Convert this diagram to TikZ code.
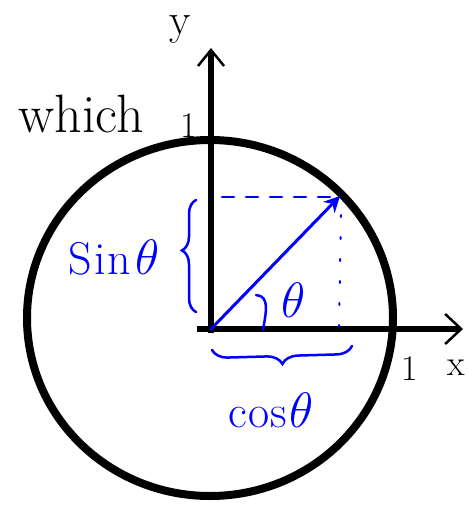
\documentclass[tikz,border=0pt]{standalone}
\usepackage{graphicx}
\usetikzlibrary{arrows.meta,decorations.pathreplacing}
\newcommand{\bigth}{\scalebox{2}{$\theta$}}
\begin{document}
\begin{tikzpicture}[x=1pt,y=-1pt,
  hand/.style={font=\fontsize{36}{36}\selectfont, inner sep=0pt},
  bighand/.style={font=\fontsize{54}{54}\selectfont, inner sep=0pt},
  bluehand/.style={font=\fontsize{46}{46}\selectfont, inner sep=0pt, text=blue},
  bl/.style={blue, line width=2.5pt, line cap=round}]
\useasboundingbox (0,0) rectangle (467,505);
\coordinate (O) at (211,329);
\coordinate (P) at (340,196);
\coordinate (ytop) at (211,48);
\coordinate (xend) at (463,329);
\coordinate (xstart) at (197,329);
\coordinate (ybot) at (211,333);
% circle
\draw[line width=8pt] (210,318) ellipse [x radius=183, y radius=178];
% axes
\draw[line width=6pt, -{Straight Barb[length=16pt,width=26pt,line width=2.5pt]}] (ybot) -- (ytop);
\draw[line width=6pt, -{Straight Barb[length=16pt,width=30pt,line width=2.5pt]}] (xstart) -- (xend);
% vector
\draw[bl, line width=3pt, -{Stealth[length=16pt,width=16pt]}] (O) -- (P);
% projections
\coordinate (d1) at (222,197);
\coordinate (d2) at (332,197);
\draw[bl, dash pattern=on 12pt off 12pt] (d1) -- (d2);
\coordinate (v1) at (341,215);
\coordinate (v2) at (339,331);
\draw[bl, line width=2pt, dash pattern=on 2pt off 20pt] (v1) -- (v2);
% angle arc
\coordinate (a1) at (256,295);
\coordinate (a2) at (263,330);
\draw[bl] (a1) .. controls (270,296) and (266,312) .. (a2);
% braces
\coordinate (b1) at (196,312);
\coordinate (b2) at (196,200);
\draw[bl, decorate, decoration={brace, amplitude=14pt, aspect=0.55}] (b1) -- (b2);
\coordinate (c1) at (352,346);
\coordinate (c2) at (212,350);
\draw[bl, decorate, decoration={brace, amplitude=16pt}] (c1) -- (c2);
% labels
\node[bighand] (which) at (81,114) {which};
\node[hand] (one1) at (189,126) {1};
\node[hand, font=\fontsize{44}{44}\selectfont] (ylab) at (180,30) {y};
\node[hand] (one2) at (410,369) {1};
\node[hand] (xlab) at (456,368) {x};
\node[bluehand] (theta) at (294,300) {\bigth};
\node[bluehand] (sin) at (114,258) {S\kern2pt i\kern2pt n\kern4pt\bigth};
\node[bluehand] (cos) at (271,410) {c\kern1pt o\kern1pt s\kern2pt\bigth};
\end{tikzpicture}
\end{document}
